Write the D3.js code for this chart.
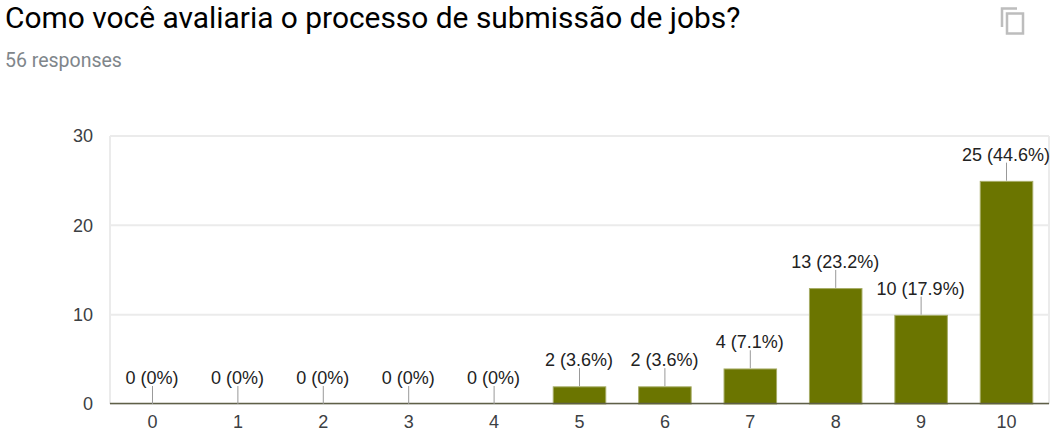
<!DOCTYPE html>
<html>
<head>
<meta charset="utf-8">
<script src="https://cdn.jsdelivr.net/npm/d3@7"></script>
<style>
    html, body { margin: 0; padding: 0; background: #fff; }
    svg { display: block; font-family: "Liberation Sans", Arial, sans-serif; }
    .title { font-family: Roboto, sans-serif; font-size: 29.9px; fill: #000; }
    .subtitle { font-family: Roboto, sans-serif; font-size: 19.5px; fill: #80868b; }
    .axis text { font-size: 18px; fill: #3c4043; }
    .axis path, .axis line { display: none; }
    .grid line { stroke: #ebebeb; stroke-width: 2; }
    .label { font-size: 18px; fill: #222; text-anchor: middle; }
    .leader { stroke: #999; stroke-width: 1; }
    .bar { fill: #6b7500; stroke: #a6ac66; stroke-width: 1; }
</style>
</head>
<body>
<svg id="chart" width="1064" height="443"></svg>
<script>
const categories = ["0", "1", "2", "3", "4", "5", "6", "7", "8", "9", "10"];
const counts = [0, 0, 0, 0, 0, 2, 2, 4, 13, 10, 25];
const labels = ["0 (0%)", "0 (0%)", "0 (0%)", "0 (0%)", "0 (0%)", "2 (3.6%)", "2 (3.6%)", "4 (7.1%)", "13 (23.2%)", "10 (17.9%)", "25 (44.6%)"];
const yTicks = [0, 10, 20, 30];

const margin = {top: 136, right: 15, bottom: 39, left: 110};
const svg = d3.select("#chart");
const width = 1064 - margin.left - margin.right;
const height = 443 - margin.top - margin.bottom;

svg.append("text").attr("class", "title").attr("x", 5).attr("y", 28)
    .text("Como você avaliaria o processo de submissão de jobs?");
svg.append("text").attr("class", "subtitle").attr("x", 5).attr("y", 67)
    .text("56 responses");

// copy icon
const icon = svg.append("g").attr("fill", "none").attr("stroke", "#bdbdbd").attr("stroke-width", 2.5);
icon.append("path").attr("d", "M1002 27V8.5H1017");
icon.append("rect").attr("x", 1007).attr("y", 13.5).attr("width", 16).attr("height", 20);

const chart = svg.append("g").attr("transform", "translate(" + margin.left + "," + margin.top + ")");

const xScale = d3.scaleBand().domain(categories).range([0, width]).paddingInner(0.385).paddingOuter(0.19);
const yScale = d3.scaleLinear().domain([0, 30]).range([height, 0]);

// grid, with the plot's right edge
chart.append("g").attr("class", "grid").selectAll("line").data(yTicks).enter()
    .append("line")
        .attr("x1", 0).attr("x2", width)
        .attr("y1", d => yScale(d)).attr("y2", d => yScale(d));
chart.append("line").attr("x1", 0).attr("x2", 0).attr("y1", 0).attr("y2", height).attr("stroke", "#ebebeb").attr("stroke-width", 2);
chart.append("line").attr("x1", width).attr("x2", width).attr("y1", 0).attr("y2", height).attr("stroke", "#ebebeb").attr("stroke-width", 2);

chart.append("g").attr("class", "x axis").attr("transform", "translate(0," + height + ")")
    .call(d3.axisBottom(xScale).tickSize(0).tickPadding(11));
chart.append("g").attr("class", "y axis")
    .call(d3.axisLeft(yScale).tickValues(yTicks).tickSize(0).tickPadding(17));

const rows = categories.map((c, i) => ({cat: c, count: counts[i], label: labels[i]}));
const cx = d => xScale(d.cat) + xScale.bandwidth() / 2;

// the stroke sits inside the bar's top edge
chart.selectAll("rect.bar").data(rows).enter()
    .append("rect")
        .attr("class", "bar")
        .attr("x", d => xScale(d.cat))
        .attr("y", d => yScale(d.count) + 0.7)
        .attr("width", xScale.bandwidth())
        .attr("height", d => Math.max(0, height - yScale(d.count) - 0.7));

chart.append("line").attr("x1", 0).attr("x2", width).attr("y1", height - 0.5).attr("y2", height - 0.5).attr("stroke", "#5f6048").attr("stroke-width", 1.5);

chart.selectAll("line.leader").data(rows).enter()
    .append("line")
        .attr("class", "leader")
        .attr("x1", cx).attr("x2", cx)
        .attr("y1", d => yScale(d.count)).attr("y2", d => yScale(d.count) - 18);

chart.selectAll("text.label").data(rows).enter()
    .append("text")
        .attr("class", "label")
        .attr("x", d => cx(d) - 0.5)
        .attr("y", d => yScale(d.count) - 20)
        .text(d => d.label);
</script>
</body>
</html>
